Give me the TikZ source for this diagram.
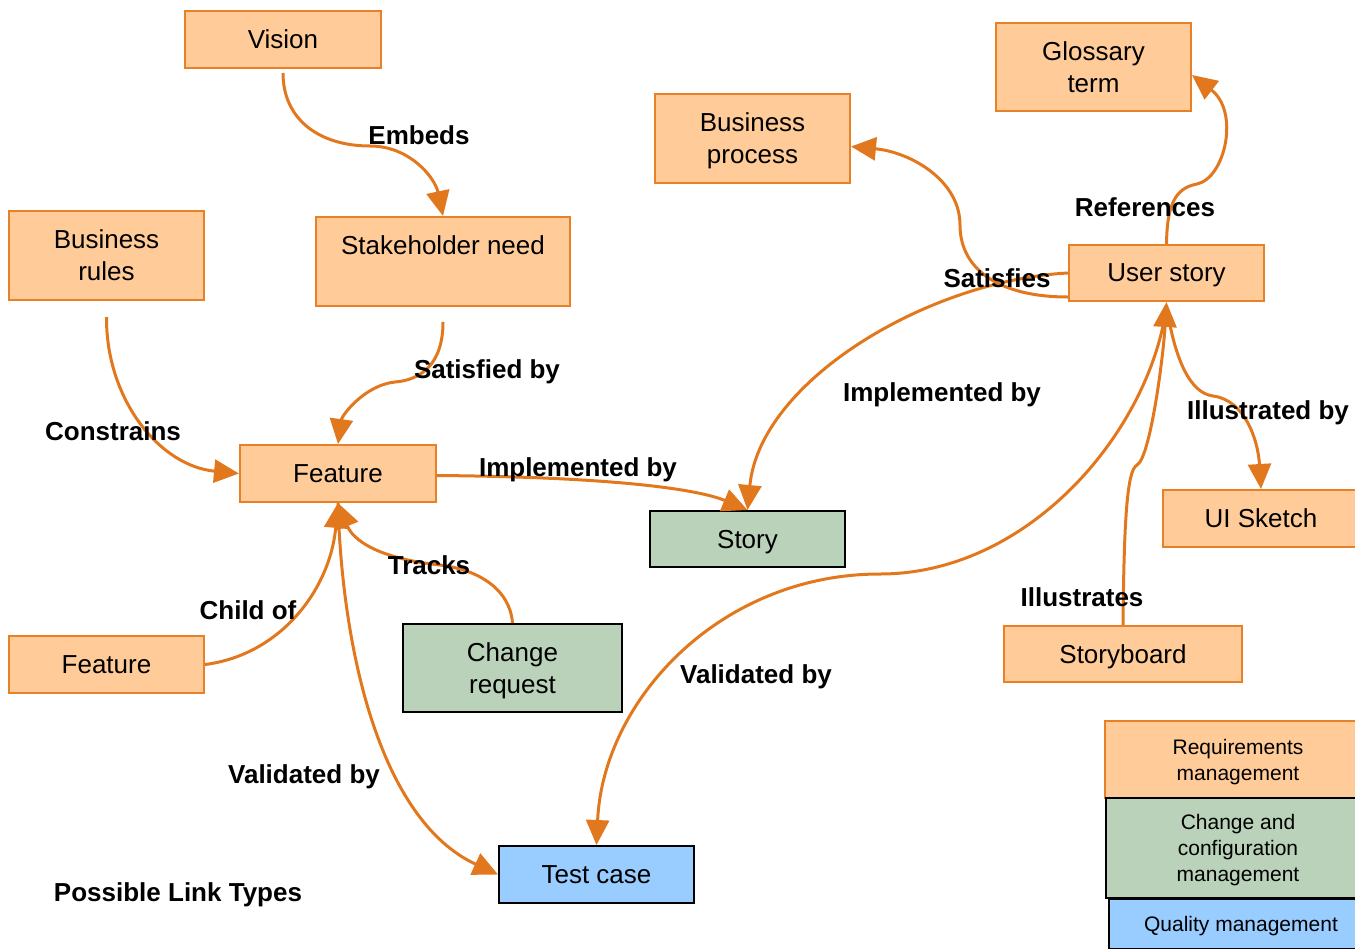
\documentclass[tikz,border=0pt]{standalone}
\usepackage{fontspec}
\setmainfont{Liberation Sans}
\usetikzlibrary{arrows.meta}
\definecolor{reqfill}{RGB}{255,204,153}
\definecolor{reqline}{RGB}{232,128,40}
\definecolor{chgfill}{RGB}{185,210,185}
\definecolor{qmfill}{RGB}{153,204,255}
\definecolor{lnkcol}{RGB}{226,120,30}
\newcommand\nodefont{\fontsize{26}{32}\selectfont}
\newcommand\lblfont{\fontsize{26}{32}\selectfont\bfseries}
\newcommand\legfont{\fontsize{21}{26}\selectfont}
\begin{document}
\begin{tikzpicture}[x=1pt,y=-1pt,
  box/.style={line width=2pt, inner sep=0pt, align=center, font=\nodefont, text depth=0pt},
  req/.style={box, draw=reqline, fill=reqfill},
  chg/.style={box, draw=black, fill=chgfill},
  qm/.style={box, draw=black, fill=qmfill},
  leg/.style={font=\legfont},
  lnk/.style={draw=lnkcol, line width=3pt, -{Triangle[length=25pt,width=23pt]}},
  lbl/.style={font=\lblfont, inner sep=0pt, text depth=0pt}]
\useasboundingbox (0,0) rectangle (1355,948);
\clip (0,0) rectangle (1355,948);

% nodes
\node[req, minimum width=196pt, minimum height=57pt] (vision) at (283,39.5) {Vision};
\node[req, minimum width=195pt, minimum height=89pt] (brules) at (106.5,255.5) {Business\\rules};
\node[req, minimum width=254pt, minimum height=89pt] (stake) at (443,261.5) {Stakeholder need\\\mbox{}};
\node[req, minimum width=195pt, minimum height=89pt] (bproc) at (752.5,138.5) {Business\\process};
\node[req, minimum width=195pt, minimum height=88pt] (gloss) at (1093.5,67) {Glossary\\term};
\node[req, minimum width=195pt, minimum height=56pt] (ustory) at (1166.5,273) {User story};
\node[req, minimum width=196pt, minimum height=57pt] (feat) at (338,473.5) {Feature};
\node[chg, minimum width=195pt, minimum height=56pt] (story) at (747.5,539) {Story};
\node[req, minimum width=196pt, minimum height=57pt] (uisk) at (1261,518.5) {UI Sketch};
\node[req, minimum width=195pt, minimum height=57pt] (featc) at (106.5,664.5) {Feature};
\node[chg, minimum width=219pt, minimum height=88pt] (creq) at (512.5,668) {Change\\request};
\node[req, minimum width=238pt, minimum height=56pt] (sboard) at (1123,654) {Storyboard};
\node[qm, minimum width=195pt, minimum height=57pt] (tcase) at (596.5,874.5) {Test case};

% legend
\node[req, leg, minimum width=266pt, minimum height=77pt] (lreq) at (1238,759.5) {Requirements\\management};
\node[chg, leg, minimum width=264pt, minimum height=100pt] (lchg) at (1238,848) {Change and\\configuration\\management};
\node[qm, leg, minimum width=264pt, minimum height=50pt] (lqm) at (1241,924) {Quality management};

% connectors
\draw[lnk] ([yshift=-4pt]vision.south) .. controls (283,120) and (320,146) .. (370,146)
  .. controls (410,146) and (435,178) .. (stake.north);
\draw[lnk] ([yshift=-16pt]brules.south) .. controls (106,400) and (160,466) .. (feat.west);
\draw[lnk] ([yshift=-15pt]stake.south) .. controls (443,365) and (420,380) .. (395,382)
  .. controls (365,385) and (342,415) .. (feat.north);
\draw[lnk] ([yshift=-2pt]feat.east) .. controls (620,477) and (700,490) .. (story.north);
\draw[lnk] (ustory.west) .. controls (930,280) and (760,380) .. (story.north);
\draw[lnk] ([yshift=-24pt]ustory.west) .. controls (1000,297) and (960,270) .. (960,225)
  .. controls (960,180) and (910,152) .. ([yshift=-8pt]bproc.east);
\draw[lnk] (ustory.north) .. controls (1167,205) and (1175,188) .. (1197,184)
  .. controls (1225,178) and (1240,112) .. ([yshift=-8pt]gloss.east);
\draw[lnk] ([yshift=-4pt]ustory.south) .. controls (1175,360) and (1190,393) .. (1213,396)
  .. controls (1245,400) and (1258,440) .. (uisk.north);
\draw[lnk] ([yshift=-4pt]ustory.south) .. controls (1150,430) and (1030,574) .. (880,574)
  .. controls (720,574) and (603,700) .. (tcase.north);
\draw[lnk] (sboard.north) .. controls (1124,520) and (1127,470) .. (1137,465)
  .. controls (1150,458) and (1163,360) .. (ustory.south);
\draw[lnk] (feat.south) .. controls (342,650) and (380,820) .. (tcase.west);
\draw[lnk] (featc.east) .. controls (280,655) and (330,590) .. (feat.south);
\draw[lnk] (creq.north) .. controls (510,590) and (480,570) .. (440,565)
  .. controls (390,560) and (355,545) .. (feat.south);

% labels
\node[lbl] (lEmbeds) at (419,135) {Embeds};
\node[lbl] (lSatBy) at (487,369) {Satisfied by};
\node[lbl] (lConstr) at (113,431) {Constrains};
\node[lbl] (lImplL) at (578,467) {Implemented by};
\node[lbl] (lTracks) at (429,565) {Tracks};
\node[lbl] (lChild) at (248,610) {Child of};
\node[lbl] (lValL) at (304,774) {Validated by};
\node[lbl] (lPoss) at (178,892) {Possible Link Types};
\node[lbl] (lValR) at (756,674) {Validated by};
\node[lbl] (lImplR) at (942,392) {Implemented by};
\node[lbl] (lSatis) at (997,278) {Satisfies};
\node[lbl] (lRefs) at (1145,207) {References};
\node[lbl] (lIllBy) at (1268,410) {Illustrated by};
\node[lbl] (lIlls) at (1082,597) {Illustrates};
\end{tikzpicture}
\end{document}
